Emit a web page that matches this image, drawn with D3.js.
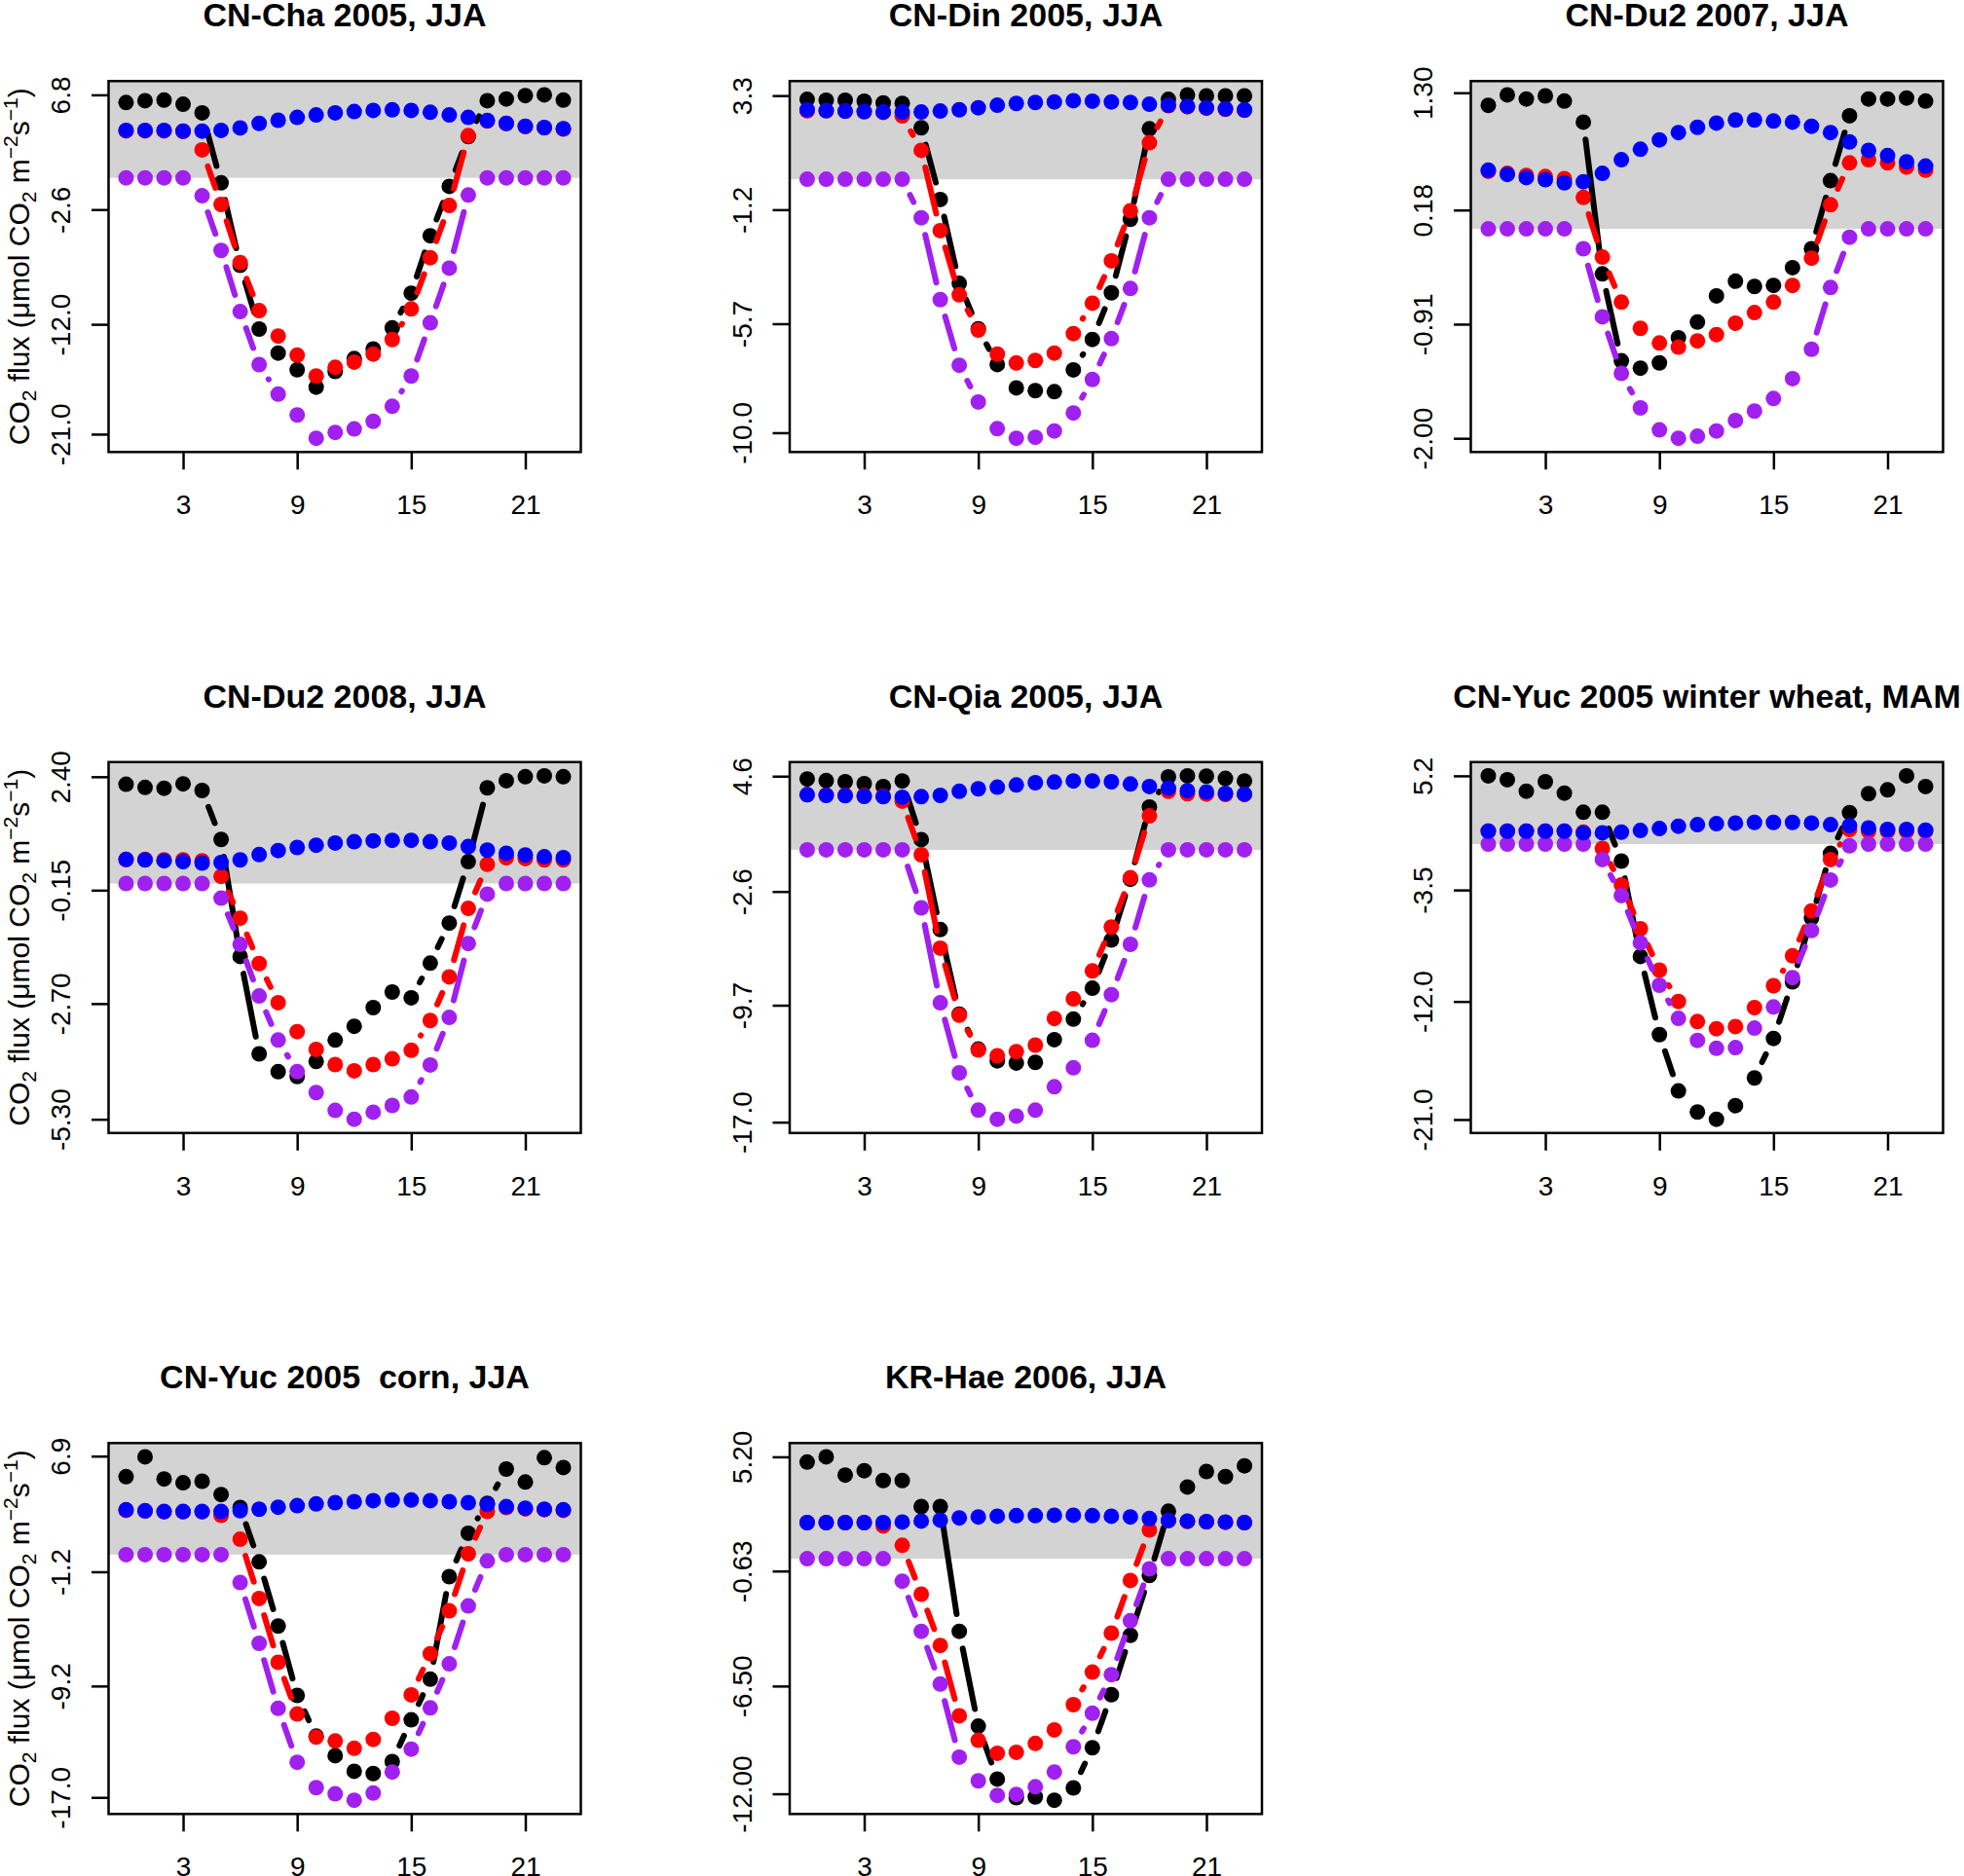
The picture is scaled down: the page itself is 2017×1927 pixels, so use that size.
<!DOCTYPE html>
<html>
<head>
<meta charset="utf-8">
<script src="https://cdn.jsdelivr.net/npm/d3@7"></script>
<style>
body { margin: 0; background: #fff; }
text { font-family: "Liberation Sans", Arial, Helvetica, sans-serif; }
</style>
</head>
<body>
<svg id="chart" width="2017" height="1927"></svg>
<script>

// hour of day (x categories)
var hours = [0,1,2,3,4,5,6,7,8,9,10,11,12,13,14,15,16,17,18,19,20,21,22,23];
var xTicks = [3, 9, 15, 21];

var titles = ["CN-Cha 2005, JJA", "CN-Din 2005, JJA", "CN-Du2 2007, JJA",
              "CN-Du2 2008, JJA", "CN-Qia 2005, JJA", "CN-Yuc 2005 winter wheat, MAM",
              "CN-Yuc 2005  corn, JJA", "KR-Hae 2006, JJA"];

// y tick labels, one list per panel
var chaTicks  = ["6.8", "-2.6", "-12.0", "-21.0"];
var dinTicks  = ["3.3", "-1.2", "-5.7", "-10.0"];
var du07Ticks = ["1.30", "0.18", "-0.91", "-2.00"];
var du08Ticks = ["2.40", "-0.15", "-2.70", "-5.30"];
var qiaTicks  = ["4.6", "-2.6", "-9.7", "-17.0"];
var wwTicks   = ["5.2", "-3.5", "-12.0", "-21.0"];
var cornTicks = ["6.9", "-1.2", "-9.2", "-17.0"];
var haeTicks  = ["5.20", "-0.63", "-6.50", "-12.00"];

// CN-Cha 2005
var chaBlack  = [6.17, 6.32, 6.37, 6.03, 5.32, -0.41, -7.17, -12.39, -14.36, -15.73, -17.15, -15.87, -14.81, -14.02, -12.30, -9.45, -4.75, -0.70, 3.38, 6.32, 6.46, 6.74, 6.80, 6.37];
var chaRed    = [3.85, 3.85, 3.85, 3.80, 2.29, -2.18, -6.94, -10.88, -12.96, -14.53, -16.24, -15.53, -15.10, -14.44, -13.25, -10.74, -6.54, -2.27, 3.46, 4.65, 4.45, 4.20, 4.10, 4.00];
var chaPurple = [0, 0, 0, 0, -1.47, -5.95, -10.96, -15.30, -17.72, -19.43, -21.34, -20.86, -20.57, -19.95, -18.72, -16.24, -11.88, -7.40, -1.41, 0, 0, 0, 0, 0];
var chaBlue   = [3.89, 3.89, 3.89, 3.83, 3.83, 3.89, 4.09, 4.46, 4.72, 4.95, 5.15, 5.32, 5.43, 5.52, 5.57, 5.52, 5.37, 5.15, 4.95, 4.69, 4.46, 4.23, 4.12, 4.03];

// CN-Din 2005
var dinBlack  = [3.15, 3.12, 3.12, 3.08, 3.01, 2.99, 2.03, -0.80, -4.11, -5.90, -7.31, -8.23, -8.34, -8.38, -7.52, -6.32, -4.48, -1.58, 1.99, 3.15, 3.33, 3.29, 3.29, 3.29];
var dinRed    = [2.70, 2.70, 2.68, 2.66, 2.64, 2.50, 1.14, -2.03, -4.56, -5.95, -6.90, -7.25, -7.15, -6.86, -6.09, -4.89, -3.22, -1.24, 1.44, 2.90, 2.86, 2.80, 2.76, 2.72];
var dinPurple = [0, 0, 0, 0, 0, 0, -1.52, -4.75, -7.34, -8.79, -9.84, -10.22, -10.18, -9.93, -9.22, -7.90, -6.29, -4.31, -1.52, 0, 0, 0, 0, 0];
var dinBlue   = [2.74, 2.71, 2.69, 2.67, 2.65, 2.65, 2.65, 2.69, 2.74, 2.82, 2.92, 2.99, 3.03, 3.05, 3.10, 3.08, 3.05, 3.03, 2.96, 2.92, 2.88, 2.82, 2.78, 2.74];

// CN-Du2 2007
var du07Black  = [1.18, 1.28, 1.24, 1.27, 1.22, 1.02, -0.43, -1.26, -1.33, -1.28, -1.04, -0.89, -0.64, -0.50, -0.55, -0.54, -0.37, -0.19, 0.46, 1.08, 1.24, 1.24, 1.25, 1.22];
var du07Red    = [0.55, 0.53, 0.51, 0.50, 0.48, 0.30, -0.27, -0.70, -0.95, -1.09, -1.13, -1.07, -1.01, -0.90, -0.80, -0.70, -0.54, -0.28, 0.23, 0.63, 0.66, 0.63, 0.59, 0.56];
var du07Purple = [0, 0, 0, 0, 0, -0.19, -0.84, -1.38, -1.71, -1.92, -2.00, -1.98, -1.93, -1.83, -1.74, -1.62, -1.43, -1.15, -0.56, -0.08, 0, 0, 0, 0];
var du07Blue   = [0.56, 0.52, 0.49, 0.47, 0.44, 0.45, 0.53, 0.66, 0.76, 0.85, 0.92, 0.97, 1.01, 1.04, 1.04, 1.03, 1.02, 0.98, 0.92, 0.83, 0.75, 0.70, 0.64, 0.60];

// CN-Du2 2008
var du08Black  = [2.23, 2.16, 2.14, 2.24, 2.09, 0.99, -1.64, -3.83, -4.23, -4.34, -4.00, -3.52, -3.21, -2.79, -2.44, -2.57, -1.79, -0.89, 0.49, 2.15, 2.31, 2.40, 2.42, 2.40];
var du08Red    = [0.54, 0.54, 0.53, 0.53, 0.51, 0.16, -0.78, -1.80, -2.68, -3.33, -3.73, -4.07, -4.21, -4.07, -3.94, -3.75, -3.08, -2.10, -0.56, 0.43, 0.58, 0.56, 0.53, 0.53];
var du08Purple = [0, 0, 0, 0, 0, -0.33, -1.37, -2.53, -3.52, -4.23, -4.70, -5.10, -5.30, -5.14, -4.99, -4.80, -4.08, -3.01, -1.35, -0.24, 0, 0, 0, 0];
var du08Blue   = [0.54, 0.53, 0.51, 0.49, 0.46, 0.47, 0.53, 0.65, 0.74, 0.81, 0.86, 0.91, 0.94, 0.96, 0.97, 0.97, 0.94, 0.91, 0.83, 0.75, 0.68, 0.64, 0.60, 0.58];

// CN-Qia 2005
var qiaBlack  = [4.42, 4.32, 4.25, 4.13, 3.95, 4.30, 0.64, -4.98, -10.26, -12.44, -13.17, -13.31, -13.27, -11.85, -10.57, -8.64, -5.63, -1.84, 2.67, 4.56, 4.62, 4.60, 4.46, 4.30];
var qiaRed    = [3.44, 3.42, 3.40, 3.38, 3.35, 3.04, -0.31, -6.14, -10.32, -12.50, -12.86, -12.60, -12.19, -10.53, -9.31, -7.56, -4.82, -1.74, 2.12, 3.65, 3.50, 3.48, 3.46, 3.45];
var qiaPurple = [0, 0, 0, 0, 0, 0, -3.62, -9.55, -13.92, -16.25, -16.82, -16.62, -16.25, -14.79, -13.61, -11.89, -9.04, -5.90, -1.88, 0, 0, 0, 0, 0];
var qiaBlue   = [3.44, 3.40, 3.38, 3.34, 3.32, 3.28, 3.32, 3.40, 3.65, 3.81, 3.91, 4.05, 4.19, 4.23, 4.30, 4.30, 4.25, 4.11, 3.95, 3.85, 3.69, 3.61, 3.52, 3.48];

// CN-Yuc 2005 winter wheat
var wwBlack  = [5.20, 4.90, 4.03, 4.75, 3.88, 2.42, 2.42, -1.30, -8.57, -14.53, -18.82, -20.43, -20.98, -19.94, -17.83, -14.82, -10.51, -5.64, -0.71, 2.40, 3.84, 4.13, 5.20, 4.38];
var wwRed    = [0.98, 0.98, 0.98, 0.98, 0.98, 0.90, -0.33, -3.11, -6.46, -9.61, -12.00, -13.53, -14.08, -13.91, -12.47, -10.80, -8.52, -5.10, -1.18, 1.11, 0.98, 0.98, 0.98, 0.98];
var wwPurple = [0, 0, 0, 0, 0, 0, -1.18, -3.93, -7.53, -10.76, -13.29, -14.97, -15.57, -15.52, -14.03, -12.42, -10.18, -6.59, -2.74, -0.14, 0, 0, 0, 0];
var wwBlue   = [0.98, 0.98, 0.98, 0.98, 0.98, 0.86, 0.86, 0.91, 1.03, 1.18, 1.36, 1.48, 1.55, 1.60, 1.65, 1.65, 1.65, 1.60, 1.48, 1.40, 1.23, 1.11, 1.11, 1.06];

// CN-Yuc 2005 corn
var cornBlack  = [5.46, 6.85, 5.30, 5.03, 5.14, 4.21, 3.30, -0.51, -5.00, -9.86, -12.71, -14.08, -15.17, -15.33, -14.49, -11.57, -8.72, -1.54, 1.50, 3.59, 5.99, 5.08, 6.79, 6.10];
var cornRed    = [3.10, 3.05, 3.00, 3.00, 3.00, 2.75, 1.08, -3.07, -7.54, -11.16, -12.78, -13.05, -13.56, -12.94, -11.46, -9.82, -6.94, -3.93, 0.06, 3.02, 3.30, 3.20, 3.15, 3.10];
var cornPurple = [0, 0, 0, 0, 0, 0, -1.95, -6.21, -10.77, -14.54, -16.32, -16.75, -17.20, -16.70, -15.22, -13.62, -10.73, -7.65, -3.59, -0.44, 0, 0, 0, 0];
var cornBlue   = [3.14, 3.07, 3.02, 3.02, 3.02, 3.02, 3.07, 3.18, 3.32, 3.43, 3.55, 3.64, 3.71, 3.78, 3.82, 3.82, 3.78, 3.71, 3.64, 3.52, 3.36, 3.25, 3.18, 3.14];

// KR-Hae 2006
var haeBlack  = [4.93, 5.20, 4.27, 4.49, 3.99, 3.99, 2.66, 2.66, -3.71, -8.55, -11.25, -12.20, -12.16, -12.33, -11.70, -9.65, -6.94, -3.91, -0.86, 2.42, 3.66, 4.45, 4.19, 4.74];
var haeRed    = [1.84, 1.84, 1.84, 1.84, 1.67, 0.68, -1.81, -4.43, -8.02, -9.27, -9.93, -9.88, -9.43, -8.74, -7.45, -5.79, -3.80, -1.11, 1.47, 1.95, 1.90, 1.88, 1.86, 1.84];
var haePurple = [0, 0, 0, 0, 0, -1.15, -3.71, -6.40, -10.13, -11.34, -12.08, -12.03, -11.64, -10.89, -9.60, -7.89, -5.92, -3.17, -0.52, 0, 0, 0, 0, 0];
var haeBlue   = [1.84, 1.84, 1.84, 1.84, 1.84, 1.87, 1.92, 1.97, 2.08, 2.13, 2.17, 2.20, 2.20, 2.22, 2.22, 2.20, 2.17, 2.13, 2.05, 1.95, 1.92, 1.89, 1.87, 1.84];


var panels = [
  {title: titles[0], ticks: chaTicks,  black: chaBlack,  red: chaRed,  purple: chaPurple,  blue: chaBlue},
  {title: titles[1], ticks: dinTicks,  black: dinBlack,  red: dinRed,  purple: dinPurple,  blue: dinBlue},
  {title: titles[2], ticks: du07Ticks, black: du07Black, red: du07Red, purple: du07Purple, blue: du07Blue},
  {title: titles[3], ticks: du08Ticks, black: du08Black, red: du08Red, purple: du08Purple, blue: du08Blue},
  {title: titles[4], ticks: qiaTicks,  black: qiaBlack,  red: qiaRed,  purple: qiaPurple,  blue: qiaBlue},
  {title: titles[5], ticks: wwTicks,   black: wwBlack,   red: wwRed,   purple: wwPurple,   blue: wwBlue},
  {title: titles[6], ticks: cornTicks, black: cornBlack, red: cornRed, purple: cornPurple, blue: cornBlue},
  {title: titles[7], ticks: haeTicks,  black: haeBlack,  red: haeRed,  purple: haePurple,  blue: haeBlue}
];

// drawing order = R call order (blue ends on top)
var series = [
  {key: "black",  color: "#000000"},
  {key: "red",    color: "#ff0000"},
  {key: "purple", color: "#a020f0"},
  {key: "blue",   color: "#0000ff"}
];

var svg = d3.select("#chart");
svg.append("rect").attr("width", 2017).attr("height", 1927).attr("fill", "#fff");

var W = 485, H = 381;
var cell = 699.5, left0 = 111.5, top0 = 83.3;
var gap = 18;   // type="b" gap round each point

panels.forEach(function(p, i) {
  var col = i % 3, row = Math.floor(i / 3);
  var g = svg.append("g")
    .attr("transform", "translate(" + (left0 + col * cell) + "," + (top0 + row * cell) + ")");

  var all = [].concat(p.black, p.red, p.purple, p.blue);
  var lo = d3.min(all), hi = d3.max(all), pad = (hi - lo) * 0.04;

  var x = d3.scaleLinear().domain([-0.92, 23.92]).range([0, W]);
  var y = d3.scaleLinear().domain([lo - pad, hi + pad]).range([H, 0]);

  // grey band for positive flux
  g.append("rect")
    .attr("x", 0).attr("y", 0)
    .attr("width", W).attr("height", y(0))
    .attr("fill", "#d3d3d3");

  series.forEach(function(s) {
    var vals = p[s.key];
    var pts = hours.map(function(h, k) { return [x(h), y(vals[k])]; });

    var segs = d3.pairs(pts).map(function(pr) {
      var dx = pr[1][0] - pr[0][0], dy = pr[1][1] - pr[0][1];
      var len = Math.sqrt(dx * dx + dy * dy);
      return {a: pr[0], b: pr[1], ux: dx / len, uy: dy / len, len: len};
    }).filter(function(d) { return d.len > 2 * gap; });

    g.selectAll(null)
      .data(segs)
      .enter()
      .append("line")
      .attr("x1", function(d) { return d.a[0] + d.ux * gap; })
      .attr("y1", function(d) { return d.a[1] + d.uy * gap; })
      .attr("x2", function(d) { return d.b[0] - d.ux * gap; })
      .attr("y2", function(d) { return d.b[1] - d.uy * gap; })
      .attr("stroke", s.color)
      .attr("stroke-width", 6)
      .attr("stroke-linecap", "round");

    g.selectAll(null)
      .data(hours)
      .enter()
      .append("circle")
      .attr("cx", function(d) { return x(d); })
      .attr("cy", function(d, k) { return y(vals[k]); })
      .attr("r", 8)
      .attr("fill", s.color);
  });

  // x axis
  var xa = g.append("g")
    .attr("transform", "translate(0," + H + ")")
    .call(d3.axisBottom(x).tickValues(xTicks).tickSize(18).tickSizeOuter(0));
  xa.select(".domain").remove();
  xa.attr("font-size", 28).attr("font-family", "Liberation Sans, Arial, sans-serif");
  xa.selectAll("line").attr("stroke-width", 2.5);
  xa.selectAll("text").attr("y", 64).attr("dy", null);

  // y axis, labels parallel to axis
  var ya = g.append("g")
    .call(d3.axisLeft(y)
      .tickValues(p.ticks.map(Number))
      .tickFormat(function(d, k) { return p.ticks[k]; })
      .tickSize(17.5).tickSizeOuter(0));
  ya.select(".domain").remove();
  ya.attr("font-size", 28).attr("font-family", "Liberation Sans, Arial, sans-serif");
  ya.selectAll("line").attr("stroke-width", 2.5);
  ya.selectAll("text")
    .attr("transform", "rotate(-90)")
    .attr("x", 0)
    .attr("y", -39.5)
    .attr("dy", null)
    .attr("text-anchor", "middle");

  // box
  g.append("rect")
    .attr("width", W).attr("height", H)
    .attr("fill", "none")
    .attr("stroke", "#000")
    .attr("stroke-width", 2.5);

  // title
  g.append("text")
    .attr("x", W / 2)
    .attr("y", -56)
    .attr("text-anchor", "middle")
    .attr("font-weight", "bold")
    .attr("font-size", 34)
    .style("white-space", "pre")
    .text(p.title);

  // y label on the left column only
  if (col === 0) {
    var yl = g.append("text")
      .attr("transform", "translate(-82," + (H / 2) + ") rotate(-90)")
      .attr("text-anchor", "middle")
      .attr("font-size", 30);
    yl.append("tspan").text("CO");
    yl.append("tspan").attr("font-size", 21).attr("dy", 7).text("2");
    yl.append("tspan").attr("dy", -7).text(" flux (\u03bcmol CO");
    yl.append("tspan").attr("font-size", 21).attr("dy", 7).text("2");
    yl.append("tspan").attr("dy", -7).text(" m");
    yl.append("tspan").attr("font-size", 21).attr("dy", -12).text("\u22122");
    yl.append("tspan").attr("dy", 12).text("s");
    yl.append("tspan").attr("font-size", 21).attr("dy", -12).text("\u22121");
    yl.append("tspan").attr("dy", 12).text(")");
  }
});

</script>
</body>
</html>
